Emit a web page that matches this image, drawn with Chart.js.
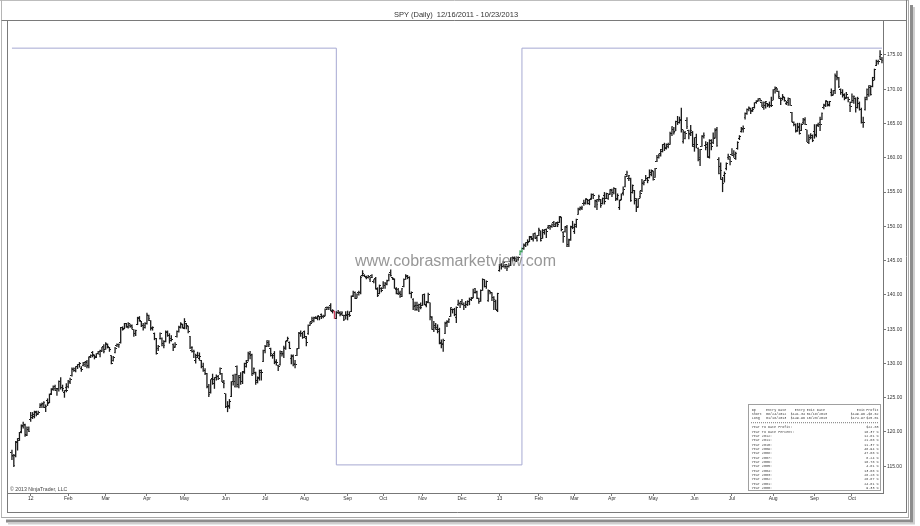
<!DOCTYPE html>
<html><head><meta charset="utf-8">
<script src="https://cdn.jsdelivr.net/npm/chart.js@4.4.1/dist/chart.umd.min.js"></script>
<style>html,body{margin:0;padding:0;background:#fff;overflow:hidden}canvas{display:block}</style>
</head><body>
<canvas id="c" width="920" height="526"></canvas>
<script>
const chartTitle = 'SPY (Daily)  12/16/2011 - 10/23/2013';
const watermark = 'www.cobrasmarketview.com';
const copyright = '\u00A9 2013 NinjaTrader, LLC';

// first trading bar of each month (bar index) and its axis label
const monthTickIndex = [10,30,50,72,92,114,135,156,179,198,219,240,260,281,300,320,342,364,384,406,428,448];
const monthTickLabels = ['12','Feb','Mar','Apr','May','Jun','Jul','Aug','Sep','Oct','Nov','Dec','13','Feb','Mar','Apr','May','Jun','Jul','Aug','Sep','Oct'];
const priceTicks = [115,120,125,130,135,140,145,150,155,160,165,170,175];

// daily OHLC, 12/16/2011 .. 10/23/2013
const open = [
117.0,116.6,116.5,118.4,119.0,120.1,120.8,121.0,119.6,120.4,
121.8,122.1,122.3,123.0,122.7,123.6,123.8,124.1,123.6,124.6,124.3,125.6,126.3,126.4,126.0,126.3,127.4,126.5,125.7,126.5,
126.6,127.2,128.3,129.1,129.0,129.6,129.9,129.3,129.7,129.9,130.3,129.7,131.0,131.6,131.1,131.0,131.5,131.3,131.9,132.4,
132.1,132.8,132.3,131.1,130.4,131.6,132.6,132.7,133.1,135.2,135.1,135.8,135.3,135.6,135.4,134.9,134.4,135.7,136.6,136.1,135.5,135.6,
135.9,137.0,136.2,135.1,134.3,133.6,132.2,133.6,133.7,132.9,133.2,134.5,134.1,133.7,132.8,132.5,133.9,134.7,135.3,135.7,
135.1,135.8,135.4,134.0,131.9,131.8,130.4,131.2,130.7,130.4,129.5,129.0,128.5,126.7,125.8,127.8,127.1,127.9,128.1,128.7,128.5,127.2,
125.6,123.7,123.7,125.2,128.3,126.7,129.6,127.0,128.0,127.4,128.8,129.5,130.4,131.3,131.2,128.6,128.7,127.5,127.9,128.7,130.3,
131.9,132.5,133.0,132.2,131.2,131.4,130.3,129.7,129.8,131.5,131.4,132.2,133.4,133.0,130.7,131.2,130.0,131.2,132.2,134.4,134.3,
134.6,133.7,134.3,135.6,136.1,136.2,136.7,136.5,136.8,137.1,136.9,137.0,138.1,138.1,138.4,137.6,137.6,136.6,137.5,137.3,137.2,137.0,137.0,
137.0,137.2,137.6,139.9,140.3,139.5,140.3,140.3,142.9,142.9,142.6,142.6,142.3,142.9,142.0,142.4,140.9,140.2,141.0,
140.9,141.4,141.6,142.1,143.2,142.5,142.3,140.8,140.8,140.4,140.0,141.2,142.3,142.7,142.6,140.2,139.4,138.4,138.4,138.4,138.6,
138.4,140.1,138.4,139.0,138.9,136.8,135.0,135.6,135.0,135.0,133.0,132.9,134.3,135.9,136.1,136.8,137.8,137.9,136.7,138.6,138.8,
139.1,138.6,138.4,138.6,139.0,139.3,139.6,140.9,140.4,139.5,139.1,140.7,142.2,141.2,139.2,140.5,140.3,139.6,139.0,137.7,
143.6,144.3,144.2,144.2,144.2,144.2,144.9,145.4,145.3,144.9,145.2,145.9,146.4,146.8,147.2,147.7,147.8,148.4,148.1,148.9,148.2,
148.7,149.4,148.3,149.1,149.6,149.8,149.9,150.0,150.6,150.0,150.6,150.6,151.3,149.1,149.2,150.0,147.4,148.1,150.0,
149.2,150.0,151.8,152.6,152.7,153.4,153.3,153.9,153.4,154.0,154.6,152.9,153.8,153.9,153.9,153.3,154.5,154.0,154.1,154.8,
155.4,154.9,155.5,154.0,152.8,153.9,155.0,155.8,157.5,157.0,157.0,155.0,155.3,154.0,152.9,154.3,155.3,156.3,156.7,157.0,157.1,157.6,
158.0,157.2,159.5,160.1,160.7,160.9,161.9,161.5,161.7,162.0,163.5,164.2,163.9,165.3,165.2,165.6,162.4,162.8,165.4,164.0,163.5,163.7,
162.0,163.0,161.4,160.0,161.7,163.1,161.8,162.0,160.1,162.1,162.3,162.9,164.0,159.7,158.8,156.8,157.4,158.4,160.0,159.8,
160.5,160.4,159.9,161.4,162.8,163.8,164.2,165.9,166.4,167.0,167.2,166.9,167.3,168.0,168.4,168.6,168.1,167.3,167.6,167.9,167.8,167.6,
168.4,169.9,170.1,169.7,168.6,168.6,168.8,167.9,168.4,168.6,166.6,165.2,164.9,164.0,164.4,164.0,165.2,165.5,164.1,162.3,162.9,163.2,
163.9,163.2,164.8,165.2,165.6,167.3,167.6,168.2,167.8,169.6,169.2,169.8,172.0,171.7,169.9,169.6,169.2,168.8,168.8,167.7,
168.0,168.4,168.6,167.4,167.9,167.1,165.2,167.1,168.5,169.3,170.3,170.4,171.3,173.4,174.0,174.8,174.3
];
const high = [
117.4,116.8,118.7,119.1,120.0,121.1,121.5,121.2,120.8,120.8,
122.9,122.9,123.1,123.1,123.1,124.2,124.3,124.5,124.0,124.9,125.6,126.4,126.8,126.9,126.4,127.5,128.0,126.9,126.1,127.1,
127.6,127.9,129.4,129.4,129.6,129.9,130.2,129.6,130.2,130.3,130.5,131.0,131.3,131.8,131.3,131.5,131.8,132.0,132.4,132.8,
133.1,132.9,132.4,131.2,131.1,132.4,132.9,132.9,135.3,135.4,135.9,135.9,136.0,135.8,135.7,135.0,134.9,136.8,136.9,136.2,135.9,136.0,
137.4,137.1,136.3,135.4,134.5,133.7,132.7,134.5,133.8,133.4,134.8,134.8,134.4,134.1,132.9,133.1,134.8,135.5,136.0,135.8,
136.6,135.9,135.5,134.0,132.5,132.0,131.4,131.7,131.6,130.5,130.1,129.3,128.6,127.0,127.7,128.5,128.0,128.4,128.3,129.4,128.6,127.6,
125.6,124.5,124.8,127.4,128.4,128.5,129.7,128.3,128.7,128.9,130.1,130.5,131.7,131.8,131.4,129.4,128.8,128.1,129.1,129.1,132.0,
132.7,133.4,133.4,132.3,131.4,131.8,130.6,129.8,131.9,131.8,132.6,133.3,133.9,133.2,131.3,131.3,130.5,132.2,134.6,134.8,134.6,
134.8,134.0,135.7,136.1,136.8,136.8,136.9,137.0,136.9,137.3,137.1,138.0,138.3,138.3,138.8,137.9,137.7,137.6,137.8,137.6,137.6,137.1,137.6,
137.7,137.6,139.9,140.6,140.5,140.2,140.6,142.8,143.6,143.0,142.8,142.9,142.7,143.0,142.3,142.6,141.1,141.5,141.1,
142.0,141.9,142.2,143.1,143.7,142.6,142.4,141.1,141.0,140.6,141.0,142.4,143.0,142.9,142.7,140.5,139.5,139.0,139.0,138.7,138.9,
140.1,140.2,139.1,140.3,138.9,136.9,136.2,135.9,135.7,135.2,133.5,133.6,136.1,136.3,136.6,138.2,138.0,138.1,138.3,139.3,139.0,
139.4,138.9,139.1,139.2,139.6,139.7,140.9,141.0,140.6,139.6,140.8,142.4,142.3,142.1,140.8,140.6,140.4,139.8,139.3,140.3,
144.5,144.6,144.9,144.5,144.3,144.6,145.5,145.6,145.6,145.6,145.6,146.5,146.9,147.5,147.7,148.1,148.6,148.6,149.0,149.1,148.7,
149.8,149.4,149.6,149.6,149.7,150.2,150.2,150.4,150.8,150.6,150.7,151.5,151.4,149.3,150.0,150.2,148.2,150.1,150.8,
150.4,151.1,152.7,152.9,153.0,153.9,154.1,154.0,154.0,154.8,154.8,153.9,154.0,154.6,154.0,154.2,155.0,154.9,154.8,155.4,
155.5,155.7,155.6,154.8,153.9,154.8,155.8,157.4,158.1,157.5,157.1,156.1,155.3,154.1,154.1,155.2,156.9,156.7,157.5,157.2,158.3,158.3,
158.1,158.5,160.4,160.6,161.3,162.0,162.2,162.1,162.2,163.8,164.6,164.5,165.4,166.1,166.0,167.3,164.1,163.9,165.9,164.1,164.8,163.9,
163.0,163.5,161.5,161.3,163.3,163.7,162.4,162.3,162.7,162.7,163.7,164.3,164.5,160.1,159.3,157.2,158.0,159.3,160.6,160.2,
161.4,161.1,160.9,162.4,163.3,164.5,164.7,166.6,167.2,167.5,167.3,167.4,168.1,168.4,168.7,168.7,168.2,168.2,168.3,168.0,168.2,168.9,
170.0,170.4,170.2,169.8,168.8,169.3,168.9,168.3,168.8,168.7,166.7,165.3,165.0,165.1,165.1,165.0,165.8,165.9,164.1,163.4,163.6,163.4,
164.9,164.9,165.1,166.0,166.6,167.9,168.4,168.3,168.3,170.1,169.9,172.3,172.7,171.8,170.1,170.0,169.4,169.6,168.9,168.2,
169.4,169.1,168.8,168.9,168.2,167.3,166.0,168.9,170.1,170.6,170.6,171.8,173.0,174.3,174.3,175.7,174.7
];
const low = [
115.9,114.9,116.3,117.3,118.7,119.8,120.5,119.3,119.4,120.0,
121.5,121.9,122.0,122.3,122.5,123.5,123.5,123.5,122.9,123.8,124.2,125.4,126.0,126.0,125.3,125.9,126.2,125.9,125.0,125.8,
126.4,127.0,128.1,128.8,128.7,129.2,129.4,128.8,129.6,129.5,129.3,129.3,130.8,130.9,130.6,130.8,131.3,130.9,131.7,131.5,
132.0,132.2,131.7,129.9,130.3,131.5,132.4,132.3,132.9,134.8,135.0,135.2,135.1,135.2,135.0,133.9,134.0,135.6,136.1,135.3,134.8,135.1,
135.7,136.2,134.8,134.8,133.4,131.3,131.8,133.5,132.5,132.2,133.1,133.9,132.9,133.2,131.8,132.3,133.8,134.5,135.1,135.1,
135.0,135.0,134.4,132.1,131.6,130.8,130.0,130.8,130.4,129.3,128.8,128.3,126.4,125.1,125.6,126.9,126.3,127.5,127.6,128.3,127.3,126.4,
123.5,122.9,123.4,125.1,126.8,126.5,126.5,126.4,126.9,127.0,128.5,129.4,130.3,130.6,128.2,128.4,126.9,127.1,127.5,127.5,130.2,
131.5,132.4,132.4,131.0,130.7,129.9,129.7,128.9,129.7,131.0,130.8,132.0,133.2,132.1,129.9,129.6,129.3,131.1,132.1,133.9,133.6,
133.7,132.5,134.2,135.5,135.9,136.0,136.5,136.3,136.3,136.5,136.6,136.9,137.8,137.8,137.6,137.3,136.5,136.5,137.2,136.9,137.0,136.2,136.4,
136.3,136.8,137.5,139.7,139.4,139.5,139.9,140.1,142.7,142.6,142.3,142.4,141.9,142.5,141.7,140.8,139.7,140.1,140.4,
140.9,140.9,141.4,142.0,142.7,142.2,140.9,140.1,140.0,139.6,139.7,141.1,142.2,142.3,140.1,139.5,137.8,137.7,137.7,137.5,137.9,
138.4,138.5,138.2,138.8,136.3,134.9,134.6,134.9,134.4,132.8,132.2,131.7,134.3,135.3,135.9,136.8,137.3,136.9,135.9,138.4,138.1,
138.5,137.8,138.1,138.4,138.5,139.1,139.5,140.2,139.4,138.7,139.0,140.6,141.1,140.9,139.0,140.1,139.1,137.8,137.8,137.5,
143.4,143.7,144.0,143.8,143.5,144.0,144.2,144.9,144.9,144.8,145.0,145.8,146.2,146.6,147.0,147.2,147.7,148.0,147.8,148.2,147.8,
148.6,147.8,148.2,148.8,148.3,149.6,149.5,149.8,149.9,149.9,149.9,150.5,149.3,147.6,149.1,147.0,147.0,147.9,149.6,
148.9,149.8,151.7,152.3,152.4,153.0,153.2,153.2,153.1,153.9,154.0,152.7,152.4,153.6,152.7,153.2,153.2,154.0,153.9,154.6,
154.3,154.7,153.7,153.8,152.4,153.8,154.5,155.7,157.2,156.6,153.6,154.8,153.2,152.1,152.7,154.1,155.0,156.0,156.6,156.3,157.0,157.3,
156.7,157.1,159.4,159.9,160.2,160.8,161.0,161.2,161.4,161.9,163.2,163.4,163.9,164.8,165.0,163.7,162.1,162.7,164.2,162.7,163.2,161.6,
160.9,161.4,159.5,158.8,161.6,162.8,161.1,160.0,159.9,161.1,162.0,162.8,161.6,157.6,156.8,155.0,156.4,158.2,159.7,158.9,
160.3,160.0,159.7,161.2,162.6,163.7,163.7,165.6,166.3,166.8,166.4,166.7,167.2,167.9,168.2,168.2,167.4,167.0,167.2,167.4,167.3,167.4,
168.4,169.4,169.6,168.6,167.7,168.4,168.2,167.7,167.6,167.6,165.2,164.6,163.7,163.8,163.4,163.9,164.9,164.8,162.3,162.0,162.7,162.3,
162.8,163.0,164.5,163.9,165.5,167.1,167.4,167.5,167.5,169.0,169.1,169.3,171.3,170.2,169.2,168.8,168.4,168.6,168.1,166.7,
168.0,167.9,166.6,167.2,166.9,165.0,164.4,166.9,168.4,168.9,169.1,170.3,171.3,173.4,173.6,174.3,173.8
];
const close = [
116.4,115.1,118.6,118.8,119.9,121.0,121.1,119.5,120.7,120.1,
122.4,122.6,122.9,122.6,122.9,124.0,124.0,124.3,123.7,124.2,125.5,126.2,126.7,126.4,126.2,127.3,126.5,126.3,126.0,126.1,
127.4,127.6,129.3,129.3,129.5,129.8,130.0,129.1,130.1,130.1,129.5,130.9,131.2,131.3,130.9,131.4,131.7,131.8,132.3,131.8,
132.9,132.5,132.0,130.0,130.9,132.2,132.8,132.8,135.2,135.0,135.8,135.4,135.9,135.5,135.3,134.3,134.8,136.7,136.2,135.6,135.3,135.9,
137.2,136.6,135.2,135.2,133.7,131.4,132.4,134.4,132.6,132.6,134.6,134.1,133.3,133.5,132.3,132.7,134.6,135.4,135.8,135.2,
136.1,135.6,134.6,132.3,132.3,131.7,130.9,131.2,131.0,129.5,129.0,128.5,126.5,125.5,127.6,127.7,127.9,128.1,127.8,129.3,127.4,127.1,
123.7,123.8,124.5,127.3,127.3,128.4,126.7,128.2,127.3,128.7,130.0,130.2,131.5,131.3,128.3,129.3,127.2,127.8,129.0,128.7,131.9,
132.5,133.3,132.7,131.4,131.2,130.2,130.2,129.5,131.7,131.3,132.3,133.2,133.6,132.2,131.0,129.9,129.8,132.0,134.5,134.4,133.8,
134.0,133.0,135.5,135.8,136.5,136.6,136.7,137.0,136.8,136.8,136.9,137.9,138.2,138.2,137.7,137.7,136.6,137.5,137.4,137.3,137.4,136.4,137.1,
137.2,137.0,139.8,140.4,139.5,140.0,140.3,142.5,143.1,142.7,142.5,142.7,142.6,142.6,142.2,140.8,139.9,141.3,140.7,
141.3,141.5,142.0,143.0,142.9,142.4,141.0,140.2,140.2,139.8,140.9,142.3,142.9,142.6,140.2,140.3,138.3,137.8,138.2,138.1,138.2,
140.0,138.6,138.9,140.0,136.7,135.0,135.3,135.3,134.7,132.9,132.7,133.3,136.0,136.0,136.4,138.1,137.9,137.1,138.2,138.8,138.8,
138.6,138.4,138.6,139.0,139.4,139.5,140.4,140.5,139.6,139.0,140.7,142.3,141.2,142.0,140.6,140.3,139.6,139.4,137.9,140.2,
144.4,144.1,144.8,144.4,143.9,144.3,145.4,145.4,145.3,145.4,145.4,146.3,146.8,147.4,147.6,147.6,148.5,148.2,148.9,148.4,148.0,
149.6,147.9,149.4,149.5,149.2,150.1,150.0,150.2,150.3,150.4,150.3,151.4,149.5,148.5,149.9,147.1,148.0,149.9,149.8,
150.3,151.0,152.4,152.6,152.8,153.5,154.0,153.7,153.9,154.7,154.5,153.6,153.2,154.3,153.0,154.1,153.6,154.8,154.7,155.3,
154.7,155.5,153.9,154.5,153.8,154.8,155.4,157.3,157.8,157.4,153.8,156.0,153.7,152.7,154.0,154.8,156.4,156.4,157.0,156.7,157.8,158.2,
156.9,158.4,160.1,160.4,161.2,161.9,161.3,162.0,162.0,163.6,164.5,163.7,165.3,165.2,165.5,164.1,163.7,163.6,164.6,163.4,164.0,161.7,
162.9,162.0,159.8,161.2,163.2,163.2,161.5,160.2,162.5,161.6,162.8,164.1,161.8,157.7,158.2,156.2,157.7,159.2,160.2,159.5,
160.6,160.5,160.6,162.2,163.1,164.3,164.3,166.5,167.1,167.3,166.7,167.1,168.0,168.2,168.6,168.3,167.6,168.1,168.2,167.6,167.6,167.6,
169.9,170.2,169.9,168.9,168.3,168.9,168.3,168.1,168.6,167.7,165.3,164.8,163.8,164.5,163.5,164.9,165.6,164.9,162.3,162.7,163.0,162.5,
163.4,164.7,164.9,164.9,166.5,167.8,168.3,167.7,168.2,169.1,169.8,171.9,171.6,170.4,169.5,169.1,168.6,169.2,168.5,167.5,
169.0,168.9,167.4,168.6,167.1,165.1,165.2,168.8,169.9,170.5,169.3,171.7,172.9,174.0,174.0,175.0,174.2
];

// strategy position plot: level while long / while short, bars where position flips
const positionSwitchBars = [173, 272];
const positionSides = ['long', 'short', 'long'];
const longLevel = 176.0;
const shortLevel = 115.2;
const shortEntryBars = [172];
const longEntryBars = [271, 272];

// performance box
const tradeHeader = ['Dp', 'Entry Date', 'Entry', 'Exit Date', 'Exit', 'Profit'];
const tradeShort = ['Short', '08/24/2012', '$141.34', '01/18/2013', '$149.96', '-$8.62'];
const tradeLong = ['Long', '01/18/2013', '$149.96', '10/23/2013', '$174.97', '$25.01'];
const summaryLabels = ['Year To Date Profit:', 'Year To Date Percent:', 'Year 2012:', 'Year 2011:', 'Year 2010:', 'Year 2009:', 'Year 2008:', 'Year 2007:', 'Year 2006:', 'Year 2005:', 'Year 2004:', 'Year 2003:', 'Year 2002:', 'Year 2001:', 'Year 2000:'];
const summaryValues = ['$22.83', '16.37 %', '12.81 %', '21.88 %', '11.37 %', '48.94 %', '47.88 %', '8.24 %', '16.78 %', '4.81 %', '13.88 %', '28.28 %', '26.87 %', '24.81 %', '9.33 %'];

// ---------------------------------------------------------------
const N = close.length;
const idx = close.map((_, i) => i);
const BLACK = '#1a1a1a', RED = '#d2405e', GREEN = '#3c9e5a';
const barColor = idx.map(i => shortEntryBars.includes(i) ? RED : (longEntryBars.includes(i) ? GREEN : BLACK));

function tickImg(color, side) {
  const c = document.createElement('canvas');
  c.width = 3; c.height = 1;
  const g = c.getContext('2d');
  g.fillStyle = color;
  g.fillRect(side === 'left' ? 0 : 2, 0, 1, 1);
  return c;
}
const openImg = {}, closeImg = {};
[BLACK, RED, GREEN].forEach(col => { openImg[col] = tickImg(col, 'left'); closeImg[col] = tickImg(col, 'right'); });

const stepPoints = [{x: 0, y: positionSides[0] === 'long' ? longLevel : shortLevel}];
positionSwitchBars.forEach((b, k) => stepPoints.push({x: b, y: positionSides[k + 1] === 'long' ? longLevel : shortLevel}));
stepPoints.push({x: N - 1, y: positionSides[positionSides.length - 1] === 'long' ? longLevel : shortLevel});

const FONT = "'Liberation Sans', Arial, sans-serif";
Chart.defaults.font.family = FONT;

const deco = {
  id: 'deco',
  beforeDraw(chart) {
    const c = chart.ctx;
    c.save(); c.fillStyle = '#fff'; c.fillRect(0, 0, chart.width, chart.height); c.restore();
  },
  afterDraw(chart) {
    const c = chart.ctx;
    c.save();
    const line = (x1, y1, x2, y2, col) => { c.strokeStyle = col; c.lineWidth = 1; c.beginPath(); c.moveTo(x1, y1); c.lineTo(x2, y2); c.stroke(); };
    // frame
    line(0, 0.5, 909, 0.5, '#bdbdbd');
    line(1.5, 0, 1.5, 518, '#b5b5b5');
    line(1.5, 20.5, 907, 20.5, '#7a7a7a');
    line(7.5, 20.5, 7.5, 513, '#7a7a7a');
    line(7.5, 512.5, 907, 512.5, '#7a7a7a');
    line(906.5, 0, 906.5, 513, '#7a7a7a');
    line(908.5, 0, 908.5, 518, '#a8a8a8');
    line(1.5, 517.5, 908.5, 517.5, '#a8a8a8');
    // shadow
    c.fillStyle = '#8c8c8c'; c.fillRect(6, 519.5, 907, 3); c.fillRect(910, 5, 3, 517.5);
    c.fillStyle = '#cfcfcf'; c.fillRect(8, 522.5, 907, 2); c.fillRect(913, 7, 2, 517);
    // title
    c.fillStyle = '#333'; c.font = '7.5px ' + FONT; c.textAlign = 'center'; c.textBaseline = 'alphabetic';
    c.fillText(chartTitle, 456, 17);
    // copyright
    c.textAlign = 'left'; c.font = '5.2px ' + FONT; c.fillStyle = '#444';
    c.fillText(copyright, 10, 490.5);
    // watermark
    c.font = '16px ' + FONT; c.textAlign = 'center'; c.fillStyle = 'rgba(125,125,125,0.8)';
    c.fillText(watermark, 455.5, 266);
    // performance box
    c.strokeStyle = '#a0a0a0'; c.strokeRect(748.5, 404.5, 132, 86);
    c.font = '3.4px "Liberation Mono", "DejaVu Sans Mono", monospace'; c.fillStyle = '#3a3a3a'; c.textBaseline = 'middle';
    const colX = [751.7, 766, 805, 806.7, 865, 878.5];
    const colA = ['left', 'left', 'right', 'left', 'right', 'right'];
    [[tradeHeader, 410], [tradeShort, 414.2], [tradeLong, 418.4]].forEach(([row, y]) => {
      row.forEach((t, k) => { c.textAlign = colA[k]; c.fillText(t, colX[k], y); });
    });
    c.setLineDash([1, 1]); line(751, 422.7, 879, 422.7, '#777'); c.setLineDash([]);
    summaryLabels.forEach((t, k) => {
      const y = 427.3 + k * 4.34;
      c.textAlign = 'left'; c.fillText(t, 751.7, y);
      c.textAlign = 'right'; c.fillText(summaryValues[k], 878.5, y);
    });
    c.restore();
  }
};

new Chart(document.getElementById('c'), {
  type: 'bar',
  data: {
    datasets: [
      { type: 'line', label: 'position', data: stepPoints, stepped: true, borderColor: '#a6a9d2', borderWidth: 1, pointRadius: 0, fill: false, order: 10 },
      { type: 'bar', label: 'range', data: idx.map(i => ({x: i, y: [low[i], high[i]]})), backgroundColor: barColor, barThickness: 1.3, inflateAmount: 0, borderWidth: 0, order: 2 },
      { type: 'scatter', label: 'open', data: idx.map(i => ({x: i, y: open[i]})), pointStyle: ctx => openImg[barColor[ctx.dataIndex]] || openImg[BLACK], pointRadius: 1.5, order: 1 },
      { type: 'scatter', label: 'close', data: idx.map(i => ({x: i, y: close[i]})), pointStyle: ctx => closeImg[barColor[ctx.dataIndex]] || closeImg[BLACK], pointRadius: 1.5, order: 1 }
    ]
  },
  options: {
    responsive: false, animation: false, devicePixelRatio: 1,
    layout: { padding: { left: 8, right: 13, top: 21, bottom: 13 } },
    plugins: { legend: { display: false }, tooltip: { enabled: false }, title: { display: false } },
    scales: {
      x: {
        type: 'linear', position: 'bottom', min: -2.107, max: 464.56, offset: false,
        afterBuildTicks: s => { s.ticks = monthTickIndex.map(v => ({value: v})); },
        afterFit: s => { s.height = 20; },
        grid: { drawOnChartArea: false, drawTicks: true, tickLength: 3, color: '#777', offset: false },
        border: { display: true, color: '#777', width: 1 },
        ticks: { autoSkip: false, maxRotation: 0, minRotation: 0, padding: 0, font: { size: 5 }, color: '#333', callback: (v, i) => monthTickLabels[i] }
      },
      y: {
        type: 'linear', position: 'right', min: 111.1, max: 179.96, beginAtZero: false,
        afterBuildTicks: s => { s.ticks = priceTicks.map(v => ({value: v})); },
        afterFit: s => { s.width = 24; },
        grid: { drawOnChartArea: false, drawTicks: true, tickLength: 3, color: '#777' },
        border: { display: true, color: '#777', width: 1 },
        ticks: { padding: 1, font: { size: 5 }, color: '#333', callback: v => Number(v).toFixed(2) }
      }
    }
  },
  plugins: [deco]
});
</script>
</body></html>
